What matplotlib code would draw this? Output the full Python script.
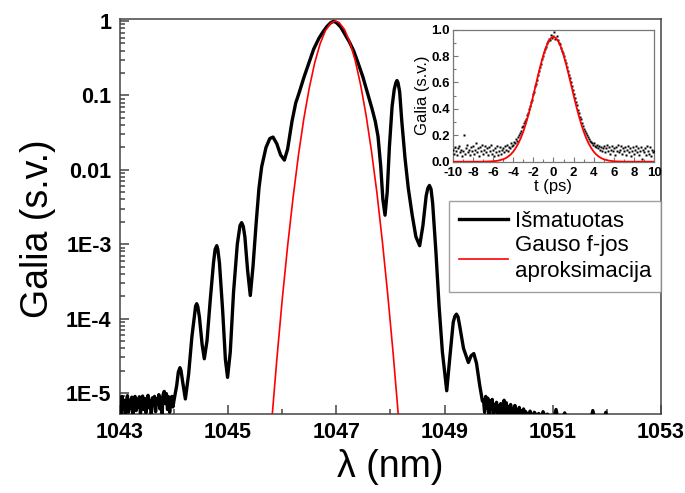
import matplotlib
matplotlib.use("Agg")
import matplotlib.pyplot as plt
import numpy as np
from matplotlib.ticker import (FixedLocator, FixedFormatter, LogLocator, NullFormatter,
                               MultipleLocator, FormatStrFormatter)

plt.rcParams["font.family"] = ["Liberation Sans", "DejaVu Sans"]
plt.rcParams["axes.unicode_minus"] = False

# ---- main spectrum ----
# left noise floor, 1043.00 .. 1043.98 nm, step 0.02 (values in 1e-6)
floor_left_lam = np.round(np.arange(1043.0, 1043.99, 0.02), 2)
floor_left_val = np.array([
    8.5, 5.0, 9.0, 6.0, 8.0, 4.8, 7.5, 9.2, 5.5, 8.0,
    6.2, 8.8, 5.0, 7.8, 9.0, 5.8, 8.2, 6.5, 8.9, 5.2,
    7.6, 9.1, 6.0, 8.4, 5.4, 8.0, 9.3, 6.3, 7.9, 5.1,
    8.6, 6.8, 9.0, 5.6, 8.3, 7.0, 9.5, 6.1, 8.7, 5.3,
    9.6, 10.5, 7.2, 9.8, 6.0, 8.9, 5.5, 7.8, 9.0, 6.5,
]) * 1e-6

# structured part (nm, log10 of intensity)
spec_lam = [
    1044.00, 1044.05, 1044.08, 1044.11, 1044.13, 1044.16, 1044.21, 1044.27, 1044.33, 1044.38,
    1044.40, 1044.42, 1044.44, 1044.47, 1044.52, 1044.56, 1044.61, 1044.67, 1044.73, 1044.76,
    1044.79, 1044.81, 1044.84, 1044.90, 1044.95, 1044.99, 1045.04, 1045.10, 1045.17, 1045.22,
    1045.25, 1045.28, 1045.31, 1045.36, 1045.41, 1045.46, 1045.52, 1045.57, 1045.62, 1045.70,
    1045.77, 1045.83, 1045.90, 1045.97, 1046.04, 1046.10, 1046.18, 1046.25, 1046.31, 1046.40,
    1046.49, 1046.58, 1046.68, 1046.75, 1046.83, 1046.90, 1046.95, 1047.00, 1047.08, 1047.16,
    1047.24, 1047.32, 1047.40, 1047.49, 1047.58, 1047.66, 1047.72, 1047.77, 1047.82, 1047.86,
    1047.90, 1047.94, 1047.98, 1048.03, 1048.07, 1048.10, 1048.12, 1048.14, 1048.17, 1048.21,
    1048.27, 1048.33, 1048.40, 1048.47, 1048.54, 1048.60, 1048.66, 1048.69, 1048.72, 1048.75,
    1048.78, 1048.84, 1048.90, 1048.96, 1049.04, 1049.10, 1049.16, 1049.19, 1049.22, 1049.25,
    1049.28, 1049.35, 1049.44, 1049.49, 1049.54, 1049.59, 1049.65, 1049.70,
]
spec_log = [
    -5.10, -4.90, -4.72, -4.66, -4.70, -4.85, -5.08, -4.75, -4.25, -3.95,
    -3.83, -3.80, -3.84, -3.98, -4.35, -4.54, -4.30, -3.75, -3.25, -3.07,
    -3.02, -3.07, -3.25, -3.90, -4.55, -4.79, -4.45, -3.65, -3.00, -2.75,
    -2.71, -2.76, -2.90, -3.35, -3.69, -3.30, -2.70, -2.25, -1.96, -1.70,
    -1.58, -1.56, -1.65, -1.80, -1.87, -1.72, -1.35, -1.10, -0.97, -0.76,
    -0.57, -0.38, -0.23, -0.15, -0.07, -0.02, -0.005, -0.02, -0.08, -0.18,
    -0.28, -0.40, -0.56, -0.75, -0.98, -1.18, -1.35, -1.55, -1.95, -2.40,
    -2.61, -2.30, -1.70, -1.15, -0.92, -0.83, -0.80, -0.83, -0.95, -1.35,
    -1.85, -2.25, -2.60, -2.90, -3.02, -2.75, -2.35, -2.25, -2.21, -2.26,
    -2.45, -3.10, -3.85, -4.45, -4.97, -4.50, -4.05, -3.97, -3.94, -3.98,
    -4.10, -4.40, -4.59, -4.50, -4.47, -4.60, -4.90, -5.11,
]

# right noise floor (values in 1e-6)
floor_right_lam1 = np.round(np.arange(1049.72, 1050.51, 0.02), 2)
floor_right_val1 = np.array([
    8.0, 5.5, 9.0, 6.2, 8.5, 5.0, 7.8, 6.0, 8.2, 5.2,
    7.0, 5.6, 7.5, 4.9, 6.8, 5.4, 7.2, 5.0, 6.5, 8.0,
    5.3, 7.4, 5.1, 6.6, 4.8, 7.0, 5.5, 6.2, 4.9, 6.8,
    5.2, 6.0, 4.8, 6.4, 5.0, 5.8, 4.7, 6.1, 5.0, 5.6,
]) * 1e-6
floor_right_lam2 = np.round(np.arange(1050.54, 1052.03, 0.04), 2)
floor_right_val2 = np.array([
    4.8, 5.7, 4.6, 5.5, 4.9, 5.3, 4.5, 5.6, 4.7, 5.2,
    4.4, 5.0, 4.6, 6.0, 4.3, 4.9, 4.5, 5.4, 4.4, 4.7,
    4.3, 4.6, 4.2, 4.5, 4.1, 4.4, 4.3, 4.4, 4.0, 4.3,
    5.8, 4.2, 4.0, 4.1, 4.0, 4.1, 5.5, 3.9,
]) * 1e-6

# Gaussian fit
gauss_lam = [1045.80, 1045.90, 1046.00, 1046.10, 1046.20, 1046.30, 1046.40, 1046.50, 1046.60,
             1046.70, 1046.80, 1046.90, 1046.98, 1047.05, 1047.15, 1047.25, 1047.35, 1047.45,
             1047.55, 1047.65, 1047.75, 1047.85, 1047.95, 1048.05, 1048.15]
gauss_val = [3.7e-6, 2.8e-5, 1.8e-4, 9.5e-4, 4.2e-3, 0.0158, 0.049, 0.126, 0.274,
             0.494, 0.748, 0.944, 1.0, 0.957, 0.771, 0.519, 0.292, 0.137,
             0.054, 0.0177, 4.9e-3, 1.1e-3, 2.1e-4, 3.4e-5, 4.6e-6]

# ---- inset: autocorrelation ----
t_ps = np.linspace(-10, 10, 201)
ac_meas = [
    0.09, 0.06, 0.11, 0.08, 0.05, 0.10, 0.12, 0.07, 0.09, 0.04,
    0.08, 0.20, 0.06, 0.10, 0.13, 0.07, 0.09, 0.05, 0.11, 0.08,
    0.12, 0.06, 0.09, 0.14, 0.07, 0.10, 0.04, 0.11, 0.08, 0.13,
    0.06, 0.09, 0.12, 0.07, 0.10, 0.05, 0.11, 0.08, 0.13, 0.06,
    0.09, 0.04, 0.10, 0.07, 0.12, 0.05, 0.08, 0.11, 0.06, 0.09,
    0.10, 0.07, 0.12, 0.09, 0.13, 0.08, 0.11, 0.10, 0.14, 0.12,
    0.13, 0.15, 0.14, 0.17, 0.16, 0.19, 0.20, 0.22, 0.23, 0.26,
    0.27, 0.29, 0.31, 0.32, 0.35, 0.37, 0.40, 0.42, 0.45, 0.47,
    0.51, 0.53, 0.57, 0.59, 0.62, 0.66, 0.69, 0.72, 0.74, 0.78,
    0.80, 0.83, 0.85, 0.87, 0.90, 0.91, 0.93, 0.92, 0.96, 0.94,
    0.95, 0.98, 0.93, 0.95, 0.92, 0.90, 0.89, 0.86, 0.84, 0.82,
    0.80, 0.77, 0.75, 0.72, 0.69, 0.66, 0.63, 0.60, 0.57, 0.54,
    0.51, 0.48, 0.45, 0.43, 0.39, 0.37, 0.34, 0.32, 0.29, 0.27,
    0.25, 0.23, 0.22, 0.20, 0.19, 0.17, 0.16, 0.15, 0.14, 0.13,
    0.14, 0.12, 0.11, 0.13, 0.10, 0.12, 0.09, 0.11, 0.08, 0.10,
    0.12, 0.07, 0.10, 0.13, 0.08, 0.11, 0.06, 0.09, 0.12, 0.08,
    0.10, 0.05, 0.11, 0.08, 0.13, 0.07, 0.09, 0.12, 0.06, 0.10,
    0.08, 0.11, 0.05, 0.09, 0.12, 0.07, 0.10, 0.04, 0.08, 0.11,
    0.06, 0.09, 0.12, 0.07, 0.10, 0.05, 0.08, 0.11, 0.02, 0.09,
    0.07, 0.10, 0.05, 0.12, 0.08, 0.06, 0.11, 0.04, 0.09, 0.07,
    0.08,
]
fit_t = [-10, -7, -6, -5.5, -5, -4.75, -4.5, -4.25, -4, -3.75, -3.5, -3.25, -3, -2.75, -2.5,
         -2.25, -2, -1.75, -1.5, -1.25, -1, -0.75, -0.5, -0.25, 0, 0.25, 0.5, 0.75, 1, 1.25,
         1.5, 1.75, 2, 2.25, 2.5, 2.75, 3, 3.25, 3.5, 3.75, 4, 4.25, 4.5, 4.75, 5, 5.5, 6, 7, 10]
fit_val = [0.0, 0.0002, 0.0032, 0.0080, 0.0183, 0.0269, 0.0387, 0.0546, 0.0757, 0.103, 0.137,
           0.178, 0.228, 0.287, 0.352, 0.425, 0.503, 0.583, 0.663, 0.739, 0.807, 0.865, 0.908,
           0.936, 0.945, 0.936, 0.908, 0.865, 0.807, 0.739, 0.663, 0.583, 0.503, 0.425, 0.352,
           0.287, 0.228, 0.178, 0.137, 0.103, 0.0757, 0.0546, 0.0387, 0.0269, 0.0183, 0.0080,
           0.0032, 0.0002, 0.0]

lam = np.concatenate([floor_left_lam, spec_lam, floor_right_lam1, floor_right_lam2])
spec = np.concatenate([floor_left_val, 10.0 ** np.array(spec_log), floor_right_val1, floor_right_val2])

SPINE = "#444444"

fig = plt.figure(figsize=(6.85, 4.93), dpi=100)
ax = fig.add_axes([0.175, 0.160, 0.790, 0.8015])

ax.plot(lam, spec, color="black", lw=2.4, solid_joinstyle="round", label="Išmatuotas", zorder=3)
ax.plot(gauss_lam, gauss_val, color="red", lw=1.2, label="Gauso f-jos\naproksimacija", zorder=4)
ax.set_yscale("log")
ax.set_xlim(1043, 1053)
ax.set_ylim(5.2e-6, 1.065)

xt = [1043, 1045, 1047, 1049, 1051, 1053]
ax.xaxis.set_major_locator(FixedLocator(xt))
ax.xaxis.set_major_formatter(FixedFormatter([str(v) for v in xt]))
ax.xaxis.set_minor_locator(FixedLocator([1044, 1046, 1048, 1050, 1052]))

yt = [1e-5, 1e-4, 1e-3, 1e-2, 1e-1, 1]
ax.yaxis.set_major_locator(FixedLocator(yt))
ax.yaxis.set_major_formatter(FixedFormatter(["1E-5", "1E-4", "1E-3", "0.01", "0.1", "1"]))
ax.yaxis.set_minor_locator(LogLocator(base=10, subs=np.arange(2, 10)))
ax.yaxis.set_minor_formatter(NullFormatter())

ax.tick_params(which="both", direction="in", color=SPINE, width=1.1)
ax.tick_params(which="major", length=6.5, labelsize=15.5, pad=6)
ax.tick_params(which="minor", length=3.3)
for lbl in ax.get_xticklabels() + ax.get_yticklabels():
    lbl.set_fontweight("bold")
for sp in ax.spines.values():
    sp.set_color(SPINE)
    sp.set_linewidth(1.1)

ax.set_xlabel("λ (nm)", fontsize=27, labelpad=4)
ax.set_ylabel("Galia (s.v.)", fontsize=27, labelpad=7)
ax.yaxis.label.set_y(0.47)

leg = ax.legend(loc="upper right", bbox_to_anchor=(1.0, 0.539), borderaxespad=0,
                fontsize=16, frameon=True, fancybox=False, handlelength=2.2,
                handletextpad=0.3, labelspacing=0.15, borderpad=0.45)
for txt in leg.get_texts():
    txt.set_linespacing(1.3)
leg.get_frame().set_edgecolor("#888888")
leg.get_frame().set_linewidth(1.0)

# inset
ax_in = fig.add_axes([0.661, 0.672, 0.294, 0.268])
ax_in.plot(t_ps, ac_meas, "s", ms=1.6, color="black", mec="none", zorder=3)
ax_in.plot(fit_t, fit_val, color="red", lw=1.3, zorder=4)
ax_in.set_xlim(-10, 10)
ax_in.set_ylim(0, 1.0)
ax_in.xaxis.set_major_locator(MultipleLocator(2))
ax_in.xaxis.set_minor_locator(MultipleLocator(1))
ax_in.yaxis.set_major_locator(MultipleLocator(0.2))
ax_in.yaxis.set_minor_locator(MultipleLocator(0.1))
ax_in.yaxis.set_major_formatter(FormatStrFormatter("%.1f"))
ax_in.tick_params(which="both", direction="in", color="#777777", width=0.8)
ax_in.tick_params(which="major", length=3.5, labelsize=9.5)
ax_in.tick_params(axis="x", which="major", pad=3.5)
ax_in.tick_params(axis="y", which="major", pad=2)
ax_in.tick_params(which="minor", length=2)
for lbl in ax_in.get_xticklabels() + ax_in.get_yticklabels():
    lbl.set_fontweight("bold")
for sp in ax_in.spines.values():
    sp.set_color("#777777")
    sp.set_linewidth(0.9)
ax_in.set_xlabel("t (ps)", fontsize=12, labelpad=0)
ax_in.set_ylabel("Galia (s.v.)", fontsize=12, labelpad=1)

fig.savefig("out.png", dpi=100)
